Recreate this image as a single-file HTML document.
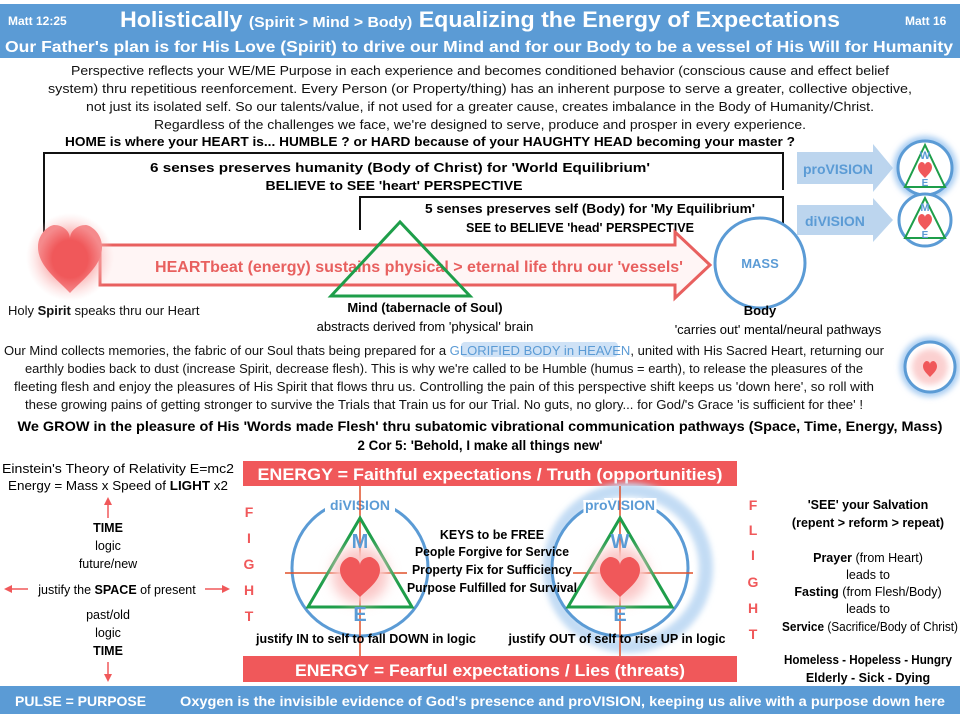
<!DOCTYPE html>
<html><head><meta charset="utf-8"><style>
html,body{margin:0;padding:0;background:#fff}
svg{display:block;font-family:"Liberation Sans",sans-serif}
</style></head><body>
<svg width="960" height="720" viewBox="0 0 960 720" xmlns="http://www.w3.org/2000/svg">
<defs>
<path id="h" d="M0,1 C-0.4,0.6 -1,0.2 -1,-0.35 C-1,-0.8 -0.6,-1 -0.5,-1 C-0.2,-1 0,-0.8 0,-0.6 C0,-0.8 0.2,-1 0.5,-1 C0.6,-1 1,-0.8 1,-0.35 C1,0.2 0.4,0.6 0,1Z"/>
<filter id="glow" x="-100%" y="-100%" width="300%" height="300%"><feGaussianBlur stdDeviation="6"/></filter>
<filter id="glow2" x="-100%" y="-100%" width="300%" height="300%"><feGaussianBlur stdDeviation="3"/></filter>
<radialGradient id="hg"><stop offset="0.55" stop-color="#f0585a"/><stop offset="1" stop-color="#f58a8c"/></radialGradient>
<radialGradient id="pg"><stop offset="0.5" stop-color="#f9a5a5" stop-opacity="0.9"/><stop offset="1" stop-color="#fbd0d0" stop-opacity="0"/></radialGradient>
</defs>
<!-- header -->
<rect x="0" y="4" width="960" height="54" fill="#5b9bd5"/>
<text x="8" y="25" font-size="12" font-weight="bold" fill="#fff">Matt 12:25</text>
<text x="905" y="25" font-size="12" font-weight="bold" fill="#fff">Matt 16</text>
<text x="120" y="27" font-size="22" font-weight="bold" fill="#fff" textLength="720" lengthAdjust="spacingAndGlyphs">Holistically <tspan font-size="15">(Spirit &gt; Mind &gt; Body)</tspan> Equalizing the Energy of Expectations</text>
<text x="5" y="52" font-size="16" font-weight="bold" fill="#fff" textLength="948" lengthAdjust="spacingAndGlyphs">Our Father's plan is for His Love (Spirit) to drive our Mind and for our Body to be a vessel of His Will for Humanity</text>
<g font-size="12.5" fill="#111" text-anchor="middle">
<text x="480" y="75" textLength="818" lengthAdjust="spacingAndGlyphs">Perspective reflects your WE/ME  Purpose in each experience and becomes conditioned behavior (conscious cause and effect belief</text>
<text x="480" y="93" textLength="864" lengthAdjust="spacingAndGlyphs">system) thru repetitious reenforcement. Every Person (or Property/thing) has an inherent purpose to serve a greater, collective objective,</text>
<text x="480" y="111" textLength="788" lengthAdjust="spacingAndGlyphs">not just its isolated self. So our talents/value, if not used for a greater cause, creates imbalance in the Body of Humanity/Christ.</text>
<text x="480" y="129" textLength="652" lengthAdjust="spacingAndGlyphs">Regardless of the challenges we face, we're designed to serve, produce and prosper in every experience.</text>
</g>
<text x="430" y="146" font-size="13" font-weight="bold" text-anchor="middle" textLength="730" lengthAdjust="spacingAndGlyphs">HOME is where your HEART is... HUMBLE ? or HARD because of your HAUGHTY HEAD becoming your master ?</text>
<!-- brackets -->
<path d="M44,260 V153 H783 V190" fill="none" stroke="#111" stroke-width="2"/>
<path d="M360,230 V197 H783 V230" fill="none" stroke="#111" stroke-width="2"/>
<g font-size="13" font-weight="bold" text-anchor="middle">
<text x="400" y="172" textLength="500" lengthAdjust="spacingAndGlyphs">6 senses preserves humanity (Body of Christ) for 'World Equilibrium'</text>
<text x="394" y="190" textLength="257" lengthAdjust="spacingAndGlyphs">BELIEVE to SEE 'heart' PERSPECTIVE</text>
<text x="590" y="213" textLength="330" lengthAdjust="spacingAndGlyphs">5 senses preserves self (Body) for 'My Equilibrium'</text>
<text x="580" y="232" textLength="228" lengthAdjust="spacingAndGlyphs">SEE to BELIEVE 'head' PERSPECTIVE</text>
</g>
<!-- big arrow -->
<path d="M100,245 H675 V232 L710,265 L675,298 V285 H100 Z" fill="#fff5f5" stroke="#e8605f" stroke-width="3"/>
<text x="155" y="272" font-size="16" font-weight="bold" fill="#e8605f" textLength="528" lengthAdjust="spacingAndGlyphs">HEARTbeat (energy) sustains physical &gt; eternal life thru our 'vessels'</text>
<ellipse cx="70" cy="257" rx="44" ry="44" fill="url(#pg)"/>
<use href="#h" transform="translate(70,259) scale(32,34)" fill="url(#hg)"/>
<polygon points="400,222 331,296 470,296" fill="none" stroke="#1e9e4a" stroke-width="3"/>
<circle cx="760" cy="263" r="45" fill="#fff" stroke="#5b9bd5" stroke-width="3"/>
<text x="760" y="268" font-size="13" font-weight="bold" fill="#5b9bd5" text-anchor="middle">MASS</text>
<text x="8" y="315" font-size="13" fill="#111">Holy <tspan font-weight="bold">Spirit</tspan> speaks thru our Heart</text>
<text x="425" y="312" font-size="13" font-weight="bold" text-anchor="middle">Mind (tabernacle of Soul)</text>
<text x="425" y="331" font-size="13" text-anchor="middle">abstracts derived from 'physical' brain</text>
<text x="760" y="315" font-size="13" font-weight="bold" text-anchor="middle">Body</text>
<text x="778" y="334" font-size="13" text-anchor="middle">'carries out' mental/neural pathways</text>
<!-- right arrows -->
<path d="M797,152 H873 V144 L893,168 L873,192 V184 H797Z" fill="#bcd5ee"/>
<text x="803" y="174" font-size="14" font-weight="bold" fill="#5b9bd5">proVISION</text>
<path d="M797,205 H873 V198 L893,220 L873,242 V235 H797Z" fill="#bcd5ee"/>
<text x="805" y="226" font-size="14" font-weight="bold" fill="#5b9bd5">diVISION</text>
<circle cx="925" cy="168" r="32" fill="#a9cdf2" filter="url(#glow2)"/>
<circle cx="925" cy="168" r="27" fill="#fff" stroke="#5b9bd5" stroke-width="3"/>
<polygon points="925,145 905,187 945,187" fill="none" stroke="#1e9e4a" stroke-width="2"/>
<use href="#h" transform="translate(925,170) scale(7,8)" fill="#f0585a"/>
<text x="925" y="159" font-size="11" font-weight="bold" fill="#5b9bd5" text-anchor="middle">W</text>
<text x="925" y="186" font-size="10" font-weight="bold" fill="#5b9bd5" text-anchor="middle">E</text>
<circle cx="925" cy="220" r="26" fill="#fff" stroke="#5b9bd5" stroke-width="3"/>
<polygon points="925,198 905,238 945,238" fill="none" stroke="#1e9e4a" stroke-width="2"/>
<use href="#h" transform="translate(925,222) scale(7,8)" fill="#f0585a"/>
<text x="925" y="211" font-size="11" font-weight="bold" fill="#5b9bd5" text-anchor="middle">M</text>
<text x="925" y="238" font-size="10" font-weight="bold" fill="#5b9bd5" text-anchor="middle">E</text>
<!-- second paragraph -->
<rect x="461" y="342" width="157" height="15" rx="4" fill="#cfe2f6"/>
<g font-size="12.5" text-anchor="middle" fill="#111">
<text x="444" y="355" textLength="880" lengthAdjust="spacingAndGlyphs">Our Mind collects memories, the fabric of our Soul thats being prepared for a <tspan fill="#5b9bd5">GLORIFIED BODY in HEAVEN</tspan>, united with His Sacred Heart, returning our</text>
<text x="444" y="373" textLength="838" lengthAdjust="spacingAndGlyphs">earthly bodies back to dust (increase Spirit, decrease flesh). This is why we're called to be Humble (humus = earth), to release the pleasures of the</text>
<text x="444" y="391" textLength="860" lengthAdjust="spacingAndGlyphs">fleeting flesh and enjoy the pleasures of His Spirit that flows thru us. Controlling the pain of this perspective shift keeps us 'down here', so roll with</text>
<text x="444" y="409" textLength="838" lengthAdjust="spacingAndGlyphs">these growing pains of getting stronger to survive the Trials that Train us for our Trial. No guts, no glory... for God/'s Grace 'is sufficient for thee' !</text>
</g>
<circle cx="930" cy="367" r="30" fill="#a9cdf2" filter="url(#glow2)"/>
<circle cx="930" cy="367" r="25" fill="#fff" stroke="#5b9bd5" stroke-width="3"/>
<circle cx="930" cy="367" r="18" fill="#fbd0d0" filter="url(#glow2)"/>
<use href="#h" transform="translate(930,369) scale(7,8)" fill="#f0585a"/>
<text x="480" y="431" font-size="14" font-weight="bold" text-anchor="middle" textLength="925" lengthAdjust="spacingAndGlyphs">We GROW in the pleasure of His 'Words made Flesh' thru subatomic vibrational communication pathways (Space, Time, Energy, Mass)</text>
<text x="480" y="450" font-size="14" font-weight="bold" text-anchor="middle" textLength="245" lengthAdjust="spacingAndGlyphs">2 Cor 5: 'Behold, I make all things new'</text>
<!-- energy bars -->
<rect x="243" y="461" width="494" height="25" fill="#f0585a"/>
<text x="490" y="480" font-size="17" font-weight="bold" fill="#fff" text-anchor="middle" textLength="465" lengthAdjust="spacingAndGlyphs">ENERGY = Faithful  expectations  / Truth  (opportunities)</text>
<rect x="243" y="656" width="494" height="26" fill="#f0585a"/>
<text x="490" y="676" font-size="17" font-weight="bold" fill="#fff" text-anchor="middle" textLength="390" lengthAdjust="spacingAndGlyphs">ENERGY = Fearful  expectations  / Lies  (threats)</text>
<!-- left circle -->
<circle cx="360" cy="568" r="68" fill="none" stroke="#5b9bd5" stroke-width="3"/>
<rect x="325" y="496" width="70" height="16" fill="#fff"/>
<text x="360" y="510" font-size="14" font-weight="bold" fill="#5b9bd5" text-anchor="middle">diVISION</text>
<line x1="360" y1="486" x2="360" y2="656" stroke="#e0502a" stroke-width="1.5"/>
<line x1="285" y1="573" x2="407" y2="573" stroke="#e0502a" stroke-width="1.5"/>
<polygon points="360,518 308,607 412,607" fill="none" stroke="#1e9e4a" stroke-width="3"/>
<circle cx="360" cy="575" r="28" fill="#fbc8c8" filter="url(#glow)"/>
<use href="#h" transform="translate(360,577) scale(20,20)" fill="#f0585a"/>
<text x="360" y="548" font-size="20" font-weight="bold" fill="#5b9bd5" text-anchor="middle">M</text>
<text x="360" y="621" font-size="20" font-weight="bold" fill="#5b9bd5" text-anchor="middle">E</text>
<!-- right circle -->
<circle cx="628" cy="568" r="78" fill="none" stroke="#c3dcf4" stroke-width="14" filter="url(#glow2)"/>
<circle cx="620" cy="568" r="68" fill="#fff" stroke="#5b9bd5" stroke-width="3"/>
<text x="620" y="510" font-size="14" font-weight="bold" fill="#5b9bd5" text-anchor="middle" stroke="#fff" stroke-width="5">proVISION</text>
<text x="620" y="510" font-size="14" font-weight="bold" fill="#5b9bd5" text-anchor="middle">proVISION</text>
<line x1="620" y1="486" x2="620" y2="656" stroke="#e0502a" stroke-width="1.5"/>
<line x1="573" y1="573" x2="693" y2="573" stroke="#e0502a" stroke-width="1.5"/>
<polygon points="620,518 568,607 672,607" fill="none" stroke="#1e9e4a" stroke-width="3"/>
<circle cx="620" cy="575" r="28" fill="#fbc8c8" filter="url(#glow)"/>
<use href="#h" transform="translate(620,577) scale(20,20)" fill="#f0585a"/>
<text x="620" y="548" font-size="20" font-weight="bold" fill="#5b9bd5" text-anchor="middle">W</text>
<text x="620" y="621" font-size="20" font-weight="bold" fill="#5b9bd5" text-anchor="middle">E</text>
<g font-size="12.5" font-weight="bold" text-anchor="middle">
<text x="492" y="539">KEYS to be FREE</text>
<text x="492" y="556" textLength="154" lengthAdjust="spacingAndGlyphs">People Forgive for Service</text>
<text x="492" y="574" textLength="160" lengthAdjust="spacingAndGlyphs">Property Fix for Sufficiency</text>
<text x="492" y="592" textLength="170" lengthAdjust="spacingAndGlyphs">Purpose Fulfilled for Survival</text>
<text x="366" y="643" textLength="220" lengthAdjust="spacingAndGlyphs">justify IN to self to fall DOWN in logic</text>
<text x="617" y="643" textLength="217" lengthAdjust="spacingAndGlyphs">justify OUT of self to rise UP in logic</text>
</g>
<g font-size="14" font-weight="bold" fill="#f0585a" text-anchor="middle">
<text x="249" y="517">F</text><text x="249" y="543">I</text><text x="249" y="569">G</text><text x="249" y="595">H</text><text x="249" y="621">T</text>
<text x="753" y="510">F</text><text x="753" y="535">L</text><text x="753" y="560">I</text><text x="753" y="587">G</text><text x="753" y="613">H</text><text x="753" y="639">T</text>
</g>
<!-- left side -->
<g font-size="12.5" text-anchor="middle">
<text x="118" y="473" textLength="232" lengthAdjust="spacingAndGlyphs">Einstein's Theory of Relativity E=mc2</text>
<text x="118" y="490" textLength="220" lengthAdjust="spacingAndGlyphs">Energy = Mass x Speed of <tspan font-weight="bold">LIGHT</tspan> x2</text>
<text x="108" y="532" font-weight="bold">TIME</text>
<text x="108" y="550">logic</text>
<text x="108" y="568">future/new</text>
<text x="117" y="594">justify the <tspan font-weight="bold">SPACE</tspan> of present</text>
<text x="108" y="619">past/old</text>
<text x="108" y="637">logic</text>
<text x="108" y="655" font-weight="bold">TIME</text>
</g>
<g stroke="#f0585a" stroke-width="1.5" fill="#f0585a">
<line x1="108" y1="502" x2="108" y2="518"/><polygon points="108,497 104,505 112,505" stroke="none"/>
<line x1="108" y1="662" x2="108" y2="677"/><polygon points="108,682 104,674 112,674" stroke="none"/>
<line x1="10" y1="589" x2="28" y2="589"/><polygon points="4,589 12,585 12,593" stroke="none"/>
<line x1="205" y1="589" x2="224" y2="589"/><polygon points="230,589 222,585 222,593" stroke="none"/>
</g>
<!-- right side -->
<g font-size="12.5" text-anchor="middle">
<text x="868" y="509" font-weight="bold">'SEE' your Salvation</text>
<text x="868" y="527" font-weight="bold">(repent &gt; reform &gt; repeat)</text>
<text x="868" y="562"><tspan font-weight="bold">Prayer</tspan> (from Heart)</text>
<text x="868" y="579">leads to</text>
<text x="868" y="596"><tspan font-weight="bold">Fasting</tspan> (from Flesh/Body)</text>
<text x="868" y="613">leads to</text>
<text x="870" y="631" textLength="176" lengthAdjust="spacingAndGlyphs"><tspan font-weight="bold">Service</tspan> (Sacrifice/Body of Christ)</text>
<text x="868" y="664" font-weight="bold" textLength="168" lengthAdjust="spacingAndGlyphs">Homeless - Hopeless - Hungry</text>
<text x="868" y="682" font-weight="bold">Elderly - Sick - Dying</text>
</g>
<!-- footer -->
<rect x="0" y="686" width="960" height="28" fill="#5b9bd5"/>
<text x="15" y="706" font-size="14" font-weight="bold" fill="#fff">PULSE = PURPOSE</text>
<text x="180" y="706" font-size="13.5" font-weight="bold" fill="#fff" textLength="765" lengthAdjust="spacingAndGlyphs">Oxygen is the invisible evidence of God's presence and proVISION, keeping us alive with a purpose down here</text>
</svg>
</body></html>
